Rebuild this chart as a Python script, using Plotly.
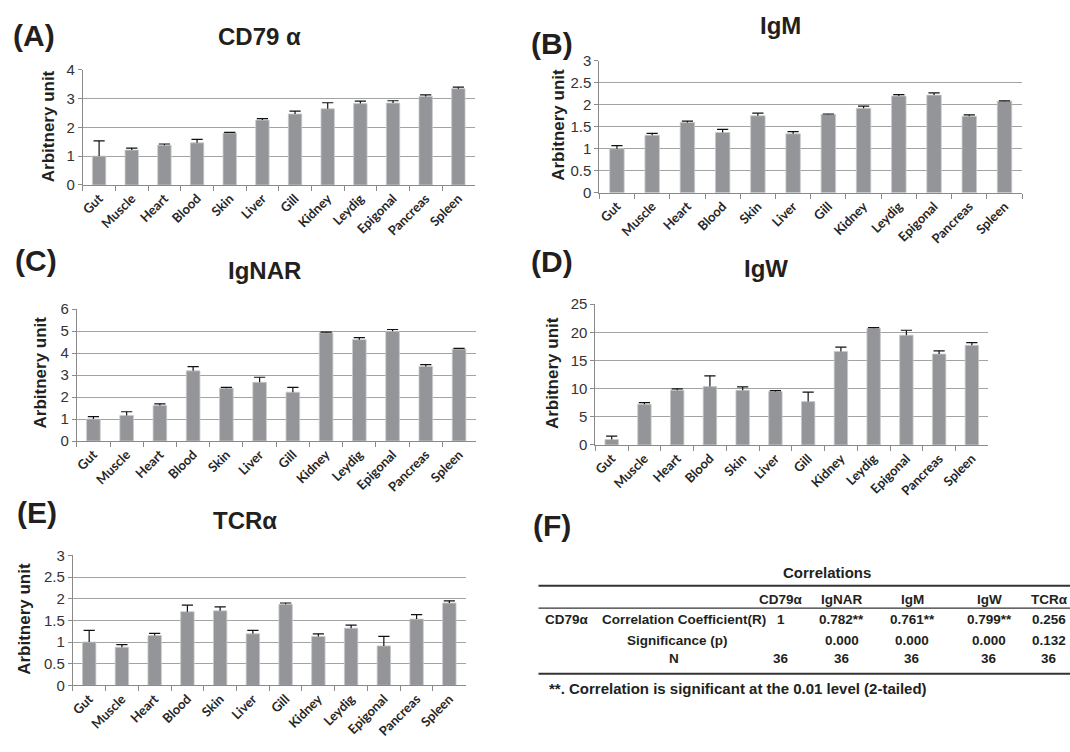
import plotly.graph_objects as go

W, H = 1070, 752

categories = ["Gut", "Muscle", "Heart", "Blood", "Skin", "Liver", "Gill",
              "Kidney", "Leydig", "Epigonal", "Pancreas", "Spleen"]

cd79a_mean = [1.00, 1.21, 1.38, 1.46, 1.80, 2.25, 2.46, 2.64, 2.82, 2.84, 3.07, 3.34]
cd79a_err = [0.53, 0.07, 0.04, 0.12, 0.02, 0.05, 0.10, 0.21, 0.09, 0.08, 0.05, 0.05]

igm_mean = [1.00, 1.31, 1.60, 1.37, 1.75, 1.34, 1.78, 1.92, 2.20, 2.22, 1.74, 2.08]
igm_err = [0.07, 0.04, 0.03, 0.07, 0.06, 0.05, 0.01, 0.05, 0.03, 0.05, 0.03, 0.01]

ignar_mean = [1.00, 1.16, 1.61, 3.19, 2.40, 2.67, 2.22, 4.92, 4.61, 4.99, 3.39, 4.18]
ignar_err = [0.11, 0.17, 0.08, 0.19, 0.04, 0.23, 0.22, 0.03, 0.09, 0.08, 0.08, 0.03]

igw_mean = [0.98, 7.23, 9.72, 10.36, 9.72, 9.49, 7.70, 16.60, 20.72, 19.50, 16.15, 17.70]
igw_err = [0.58, 0.29, 0.23, 1.91, 0.58, 0.17, 1.68, 0.76, 0.11, 0.87, 0.57, 0.47]

tcra_mean = [1.00, 0.88, 1.15, 1.70, 1.72, 1.19, 1.87, 1.13, 1.32, 0.91, 1.53, 1.90]
tcra_err = [0.27, 0.06, 0.05, 0.15, 0.09, 0.08, 0.03, 0.06, 0.07, 0.22, 0.10, 0.05]

table_title = "Correlations"
table_columns = ["CD79α", "IgNAR", "IgM", "IgW", "TCRα"]
row_group = "CD79α"
row_labels = ["Correlation Coefficient(R)", "Significance (p)", "N"]
corr_r = ["1", "0.782**", "0.761**", "0.799**", "0.256"]
corr_p = ["", "0.000", "0.000", "0.000", "0.132"]
corr_n = ["36", "36", "36", "36", "36"]
footnote = "**. Correlation is significant at the 0.01 level (2-tailed)"


def px(x):
    return x / W


def py(y):
    return 1 - y / H


# label, title, mean, err, ymax, dtick, plot box (x0,x1,ytop,ybot), title pos, label pos, ytitle pos
panels = [
    ("(A)", "CD79 α", cd79a_mean, cd79a_err, 4, 1, (80, 473, 62, 180), (257, 28), (31, 27), (45, 120)),
    ("(B)", "IgM", igm_mean, igm_err, 3, 0.5, (598, 1022, 53, 188), (780, 17), (551, 35), (557, 118)),
    ("(C)", "IgNAR", ignar_mean, ignar_err, 6, 1, (74, 474, 307, 442), (262, 268), (33, 257), (38, 372)),
    ("(D)", "IgW", igw_mean, igw_err, 25, 5, (594, 988, 302, 446), (765, 265), (551, 258), (551, 372)),
    ("(E)", "TCRα", tcra_mean, tcra_err, 3, 0.5, (70, 464, 559, 692), (243, 523), (34, 515), (22, 624)),
]

BAR = "#939598"
AXC = "#8a8a8a"
GRID = "#a3a3a3"
TXT = "#231f20"

fig = go.Figure()
annotations = []
shapes = []

for i, (lab, title, mean, err, ymax, dtick, box, tpos, lpos, ytpos) in enumerate(panels, start=1):
    sfx = "" if i == 1 else str(i)
    xa, ya = "x" + sfx, "y" + sfx
    x0, x1, yt, yb = box
    fig.add_trace(go.Bar(
        x=categories, y=mean, xaxis=xa, yaxis=ya, width=0.41,
        marker=dict(color=BAR, line=dict(color="#c9c9c9", width=0.8)),
        error_y=dict(type="data", symmetric=False, array=err,
                     arrayminus=[0] * len(err), width=0, thickness=1.2, color="#111111"),
        showlegend=False, hoverinfo="skip"))
    fig.add_trace(go.Scatter(
        x=categories, y=[m + e for m, e in zip(mean, err)], xaxis=xa, yaxis=ya,
        mode="markers",
        marker=dict(symbol="line-ew", size=8, color="#111111",
                    line=dict(color="#111111", width=1.2)),
        showlegend=False, hoverinfo="skip"))
    fig.layout["xaxis" + sfx] = dict(
        domain=[px(x0), px(x1)], anchor=ya, type="category", range=[-0.5, 11.5],
        tickangle=-45, tickson="boundaries", ticks="outside", ticklen=5,
        tickcolor=AXC, showline=True, linecolor=AXC, linewidth=1, showgrid=False,
        zeroline=False,
        tickfont=dict(family="Lato", size=13, color="#262626", weight="bold"),
        fixedrange=True)
    fig.layout["yaxis" + sfx] = dict(
        domain=[py(yb), py(yt)], anchor=xa, range=[0, ymax], dtick=dtick,
        showgrid=True, gridcolor=GRID, gridwidth=1, showline=True, linecolor=AXC,
        linewidth=1, ticks="outside", ticklen=4, tickcolor=AXC, zeroline=False,
        tickfont=dict(family="Liberation Sans", size=15, color="#333333"),
        fixedrange=True)
    annotations.append(dict(x=px(tpos[0]), y=py(tpos[1]), xref="paper", yref="paper",
                            text="<b>%s</b>" % title, showarrow=False,
                            xanchor="center", yanchor="middle",
                            font=dict(family="Liberation Sans", size=24, color=TXT)))
    annotations.append(dict(x=px(lpos[0]), y=py(lpos[1]), xref="paper", yref="paper",
                            text="<b>%s</b>" % lab, showarrow=False,
                            xanchor="center", yanchor="middle",
                            font=dict(family="Liberation Sans", size=30, color=TXT)))
    annotations.append(dict(x=px(ytpos[0]), y=py(ytpos[1]), xref="paper", yref="paper",
                            text="<b>Arbitnery unit</b>", showarrow=False, textangle=-90,
                            xanchor="center", yanchor="middle",
                            font=dict(family="Liberation Sans", size=17, color=TXT)))

# (F) label and correlation table
annotations.append(dict(x=px(551), y=py(528), xref="paper", yref="paper",
                        text="<b>(F)</b>", showarrow=False, xanchor="center", yanchor="middle",
                        font=dict(family="Liberation Sans", size=30, color=TXT)))

tf = dict(family="Liberation Sans", size=13.5, color=TXT)


def tx(x, y, s, anchor="center", size=None):
    f = dict(tf)
    if size:
        f["size"] = size
    annotations.append(dict(x=px(x), y=py(y), xref="paper", yref="paper",
                            text="<b>%s</b>" % s, showarrow=False,
                            xanchor=anchor, yanchor="middle", font=f))


tx(826, 577, table_title, size=15)
col_x = [780, 841, 912, 989, 1049]
row_y = [625, 646, 665]
for cx, h in zip(col_x, table_columns):
    tx(cx, 604, h)
tx(566, row_y[0], row_group)
tx(599, row_y[0], row_labels[0], anchor="left")
tx(676, row_y[1], row_labels[1])
tx(673, row_y[2], row_labels[2])
for cx, r, p, n in zip(col_x, corr_r, corr_p, corr_n):
    tx(cx, row_y[0], r)
    if p:
        tx(cx, row_y[1], p)
    tx(cx, row_y[2], n)
tx(546, 695, footnote, anchor="left", size=15)

for yline, wline in [(590, 2), (613, 1.3), (680, 2)]:
    shapes.append(dict(type="line", xref="paper", yref="paper",
                       x0=px(537), x1=1.0, y0=py(yline), y1=py(yline),
                       line=dict(color="#333333", width=wline)))

fig.update_layout(
    width=W, height=H, margin=dict(l=0, r=0, t=0, b=0),
    paper_bgcolor="white", plot_bgcolor="white",
    annotations=annotations, shapes=shapes, showlegend=False,
    font=dict(family="Liberation Sans"),
)

fig.write_html(
    "out.html",
    config={"displayModeBar": False},
    post_script="document.body.style.margin='0';document.body.style.overflow='hidden';",
)
